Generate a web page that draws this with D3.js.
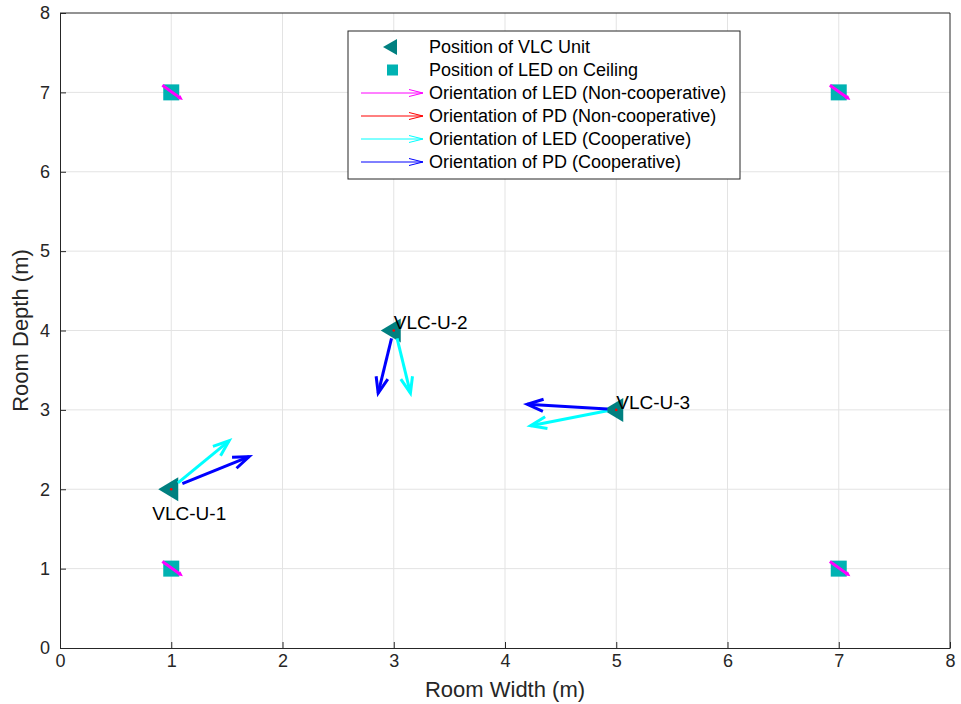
<!DOCTYPE html>
<html>
<head>
<meta charset="utf-8">
<script src="https://cdn.jsdelivr.net/npm/d3@7"></script>
<style>
  body { margin: 0; background: #fff; }
  text { font-family: "Liberation Sans", Arial, sans-serif; }
</style>
</head>
<body>
<div id="chart"></div>
<script>
// data
var xTicks = [0, 1, 2, 3, 4, 5, 6, 7, 8];
var yTicks = [0, 1, 2, 3, 4, 5, 6, 7, 8];
var unitNames = ["VLC-U-1", "VLC-U-2", "VLC-U-3"];
var unitX = [1, 3, 5];
var unitY = [2, 4, 3];
var labelX = [0.83, 3.0, 5.0];
var labelY = [1.7, 4.1, 3.1];
var ledX = [1, 1, 7, 7];
var ledY = [1, 7, 1, 7];
// arrows: [x0, y0, x1, y1]
var ledCoopArrows = [[1.06, 2.08, 1.52, 2.61], [3.03, 3.90, 3.15, 3.21], [4.92, 2.99, 4.23, 2.80]];
var pdCoopArrows = [[1.10, 2.07, 1.70, 2.41], [2.98, 3.90, 2.86, 3.21], [4.92, 3.01, 4.20, 3.07]];
var ledNonCoopArrows = [[0.92, 7.09, 1.08, 6.93], [0.92, 1.09, 1.08, 0.93], [6.92, 7.09, 7.08, 6.93], [6.92, 1.09, 7.08, 0.93]];
var legendLabels = ["Position of VLC Unit", "Position of LED on Ceiling",
  "Orientation of LED (Non-cooperative)", "Orientation of PD (Non-cooperative)",
  "Orientation of LED (Cooperative)", "Orientation of PD (Cooperative)"];

var W = 961, H = 704;
var margin = {top: 13, right: 10, bottom: 56, left: 60};
var width = 890, height = 635;

var svg = d3.select("#chart").append("svg")
  .attr("width", W).attr("height", H);
var g = svg.append("g")
  .attr("transform", "translate(" + margin.left + "," + margin.top + ")");

var x = d3.scaleLinear().domain([0, 8]).range([0, width]);
var y = d3.scaleLinear().domain([0, 8]).range([height, 0]);

// grid
g.append("g").selectAll("line").data(xTicks.slice(1, -1)).enter().append("line")
  .attr("x1", d => x(d)).attr("x2", d => x(d))
  .attr("y1", 0).attr("y2", height)
  .attr("stroke", "#e3e3e3").attr("stroke-width", 1);
g.append("g").selectAll("line").data(yTicks.slice(1, -1)).enter().append("line")
  .attr("y1", d => y(d)).attr("y2", d => y(d))
  .attr("x1", 0).attr("x2", width)
  .attr("stroke", "#e3e3e3").attr("stroke-width", 1);

// axes
var xAxis = g.append("g")
  .attr("transform", "translate(0," + height + ")")
  .call(d3.axisBottom(x).tickValues(xTicks).tickSizeInner(-6).tickSizeOuter(0).tickPadding(6));
var yAxis = g.append("g")
  .call(d3.axisLeft(y).tickValues(yTicks).tickSizeInner(-6).tickSizeOuter(0).tickPadding(10));
[xAxis, yAxis].forEach(function(a) {
  a.select(".domain").attr("stroke", "#262626");
  a.selectAll(".tick line").attr("stroke", "#262626");
  a.selectAll(".tick text").attr("fill", "#262626").attr("font-size", 18)
    .style("font-family", "'Liberation Sans', Arial, sans-serif");
});
// box top & right
g.append("line").attr("x1", 0).attr("x2", width).attr("y1", 0).attr("y2", 0).attr("stroke", "#262626");
g.append("line").attr("x1", width).attr("x2", width).attr("y1", 0).attr("y2", height).attr("stroke", "#262626");

// axis labels
svg.append("text")
  .attr("x", margin.left + width / 2).attr("y", 697)
  .attr("text-anchor", "middle").attr("font-size", 22).attr("fill", "#262626")
  .text("Room Width (m)");
svg.append("text")
  .attr("transform", "translate(28," + (margin.top + height / 2) + ") rotate(-90)")
  .attr("text-anchor", "middle").attr("font-size", 22).attr("fill", "#262626")
  .text("Room Depth (m)");

// arrow helper (quiver style, open head)
function drawArrow(sel, px0, py0, px1, py1, color, lw, headLen, headW) {
  var dx = px1 - px0, dy = py1 - py0;
  var L = Math.sqrt(dx * dx + dy * dy);
  var ux = dx / L, uy = dy / L;
  var bx = px1 - ux * headLen, by = py1 - uy * headLen;
  sel.append("line").attr("x1", px0).attr("y1", py0).attr("x2", px1).attr("y2", py1)
    .attr("stroke", color).attr("stroke-width", lw);
  sel.append("path")
    .attr("d", "M" + (bx - uy * headW) + "," + (by + ux * headW) + "L" + px1 + "," + py1 +
      "L" + (bx + uy * headW) + "," + (by - ux * headW))
    .attr("fill", "none").attr("stroke", color).attr("stroke-width", lw);
}

// LED squares
var sq = 16;
g.append("g").selectAll("rect").data(ledX).enter().append("rect")
  .attr("x", (d, i) => x(d) - sq / 2).attr("y", (d, i) => y(ledY[i]) - sq / 2)
  .attr("width", sq).attr("height", sq).attr("fill", "#00b2b2");

// non-cooperative LED orientation (short magenta)
var ledNC = g.append("g");
ledNonCoopArrows.forEach(function(a) {
  drawArrow(ledNC, x(a[0]), y(a[1]), x(a[2]), y(a[3]), "#ff00ff", 3, 2, 1);
});

// units (triangles pointing left)
var units = g.append("g");
unitX.forEach(function(ux, i) {
  var cx = x(ux), cy = y(unitY[i]);
  units.append("path")
    .attr("d", "M" + (cx - 13) + "," + cy + "L" + (cx + 7) + "," + (cy - 12) + "L" + (cx + 7) + "," + (cy + 12) + "Z")
    .attr("fill", "#008080");
  units.append("circle").attr("cx", cx).attr("cy", cy).attr("r", 1.3).attr("fill", "#ff0000");
});

// cooperative arrows
var coop = g.append("g");
ledCoopArrows.forEach(function(a) {
  drawArrow(coop, x(a[0]), y(a[1]), x(a[2]), y(a[3]), "#00ffff", 3, 16, 6);
});
pdCoopArrows.forEach(function(a) {
  drawArrow(coop, x(a[0]), y(a[1]), x(a[2]), y(a[3]), "#0000ff", 3, 16, 6);
});

// unit labels
g.append("g").selectAll("text").data(unitNames).enter().append("text")
  .attr("x", (d, i) => x(labelX[i])).attr("y", (d, i) => y(labelY[i]))
  .attr("dy", "0.35em").attr("font-size", 19).attr("fill", "#000")
  .text(d => d);

// legend
var lg = svg.append("g").attr("transform", "translate(348,31)");
lg.append("rect").attr("width", 392).attr("height", 148)
  .attr("fill", "#fff").attr("stroke", "#262626").attr("stroke-width", 1);
var rowY = [16, 39, 62, 85, 108, 131];
var legendColors = ["#008080", "#00b2b2", "#ff00ff", "#ff0000", "#00ffff", "#0000ff"];
legendLabels.forEach(function(t, i) {
  var ry = rowY[i];
  if (i === 0) {
    lg.append("path")
      .attr("d", "M35," + ry + "L49," + (ry - 8) + "L49," + (ry + 8) + "Z")
      .attr("fill", legendColors[i]);
  } else if (i === 1) {
    lg.append("rect").attr("x", 39).attr("y", ry - 5.5).attr("width", 11).attr("height", 11)
      .attr("fill", legendColors[i]);
  } else {
    drawArrow(lg, 13, ry, 75, ry, legendColors[i], 1, 14, 3.5);
  }
  lg.append("text").attr("x", 81).attr("y", ry).attr("dy", "0.35em")
    .attr("font-size", 18).attr("fill", "#000").text(t);
});
</script>
</body>
</html>
